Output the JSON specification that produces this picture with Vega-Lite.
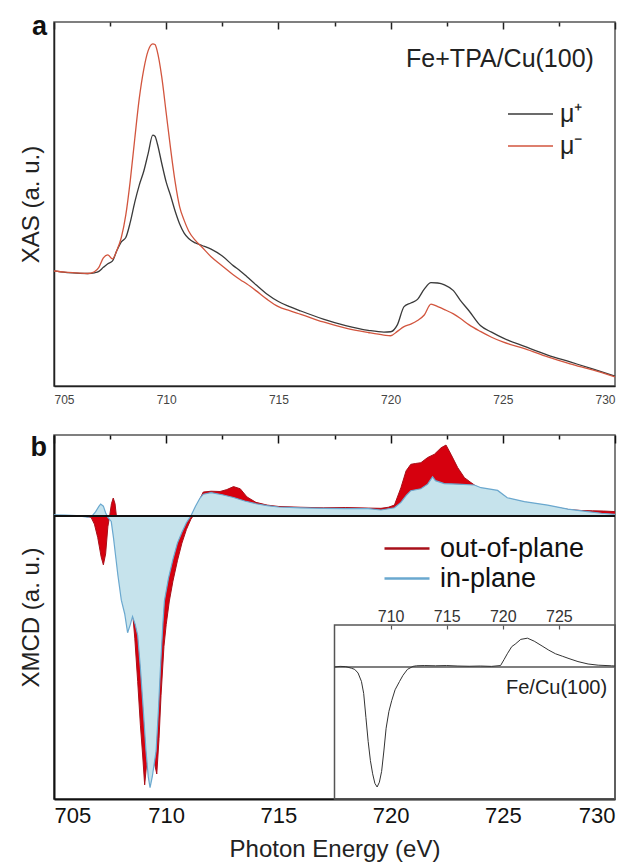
{
  "$schema": "https://vega.github.io/schema/vega-lite/v6.json",
  "padding": {"left": 18, "top": 12, "right": 0, "bottom": 0},
  "spacing": 27,
  "config": {
    "font": "Liberation Sans",
    "view": {"stroke": "#555", "strokeWidth": 1.5},
    "axis": {"grid": false, "titleFontWeight": "normal", "titleColor": "#222"}
  },
  "datasets": {
    "xas": [
      {"E": 705.0, "μ⁺": 0.316, "μ⁻": 0.316},
      {"E": 705.5, "μ⁺": 0.312, "μ⁻": 0.313},
      {"E": 706.0, "μ⁺": 0.310, "μ⁻": 0.311},
      {"E": 706.5, "μ⁺": 0.309, "μ⁻": 0.309},
      {"E": 706.8, "μ⁺": 0.311, "μ⁻": 0.314},
      {"E": 707.0, "μ⁺": 0.315, "μ⁻": 0.326},
      {"E": 707.2, "μ⁺": 0.326, "μ⁻": 0.352},
      {"E": 707.4, "μ⁺": 0.336, "μ⁻": 0.360},
      {"E": 707.6, "μ⁺": 0.343, "μ⁻": 0.349},
      {"E": 707.8, "μ⁺": 0.372, "μ⁻": 0.372},
      {"E": 708.0, "μ⁺": 0.396, "μ⁻": 0.408},
      {"E": 708.2, "μ⁺": 0.408, "μ⁻": 0.470},
      {"E": 708.4, "μ⁺": 0.450, "μ⁻": 0.565},
      {"E": 708.6, "μ⁺": 0.505, "μ⁻": 0.680},
      {"E": 708.8, "μ⁺": 0.552, "μ⁻": 0.790},
      {"E": 709.0, "μ⁺": 0.590, "μ⁻": 0.870},
      {"E": 709.2, "μ⁺": 0.640, "μ⁻": 0.922},
      {"E": 709.4, "μ⁺": 0.689, "μ⁻": 0.940},
      {"E": 709.5, "μ⁺": 0.686, "μ⁻": 0.938},
      {"E": 709.6, "μ⁺": 0.667, "μ⁻": 0.920},
      {"E": 709.8, "μ⁺": 0.612, "μ⁻": 0.850},
      {"E": 710.0, "μ⁺": 0.560, "μ⁻": 0.750},
      {"E": 710.2, "μ⁺": 0.522, "μ⁻": 0.650},
      {"E": 710.4, "μ⁺": 0.480, "μ⁻": 0.560},
      {"E": 710.6, "μ⁺": 0.445, "μ⁻": 0.492},
      {"E": 710.8, "μ⁺": 0.420, "μ⁻": 0.455},
      {"E": 711.0, "μ⁺": 0.405, "μ⁻": 0.426},
      {"E": 711.3, "μ⁺": 0.393, "μ⁻": 0.400},
      {"E": 711.6, "μ⁺": 0.386, "μ⁻": 0.381},
      {"E": 712.0, "μ⁺": 0.376, "μ⁻": 0.355},
      {"E": 712.5, "μ⁺": 0.357, "μ⁻": 0.330},
      {"E": 713.0, "μ⁺": 0.330, "μ⁻": 0.305},
      {"E": 713.3, "μ⁺": 0.316, "μ⁻": 0.292},
      {"E": 713.6, "μ⁺": 0.300, "μ⁻": 0.280},
      {"E": 714.0, "μ⁺": 0.278, "μ⁻": 0.262},
      {"E": 714.5, "μ⁺": 0.252, "μ⁻": 0.238},
      {"E": 715.0, "μ⁺": 0.232, "μ⁻": 0.218},
      {"E": 715.5, "μ⁺": 0.218, "μ⁻": 0.207},
      {"E": 716.0, "μ⁺": 0.206, "μ⁻": 0.197},
      {"E": 717.0, "μ⁺": 0.184, "μ⁻": 0.176},
      {"E": 718.0, "μ⁺": 0.166, "μ⁻": 0.159},
      {"E": 719.0, "μ⁺": 0.153, "μ⁻": 0.147},
      {"E": 719.7, "μ⁺": 0.148, "μ⁻": 0.140},
      {"E": 720.0, "μ⁺": 0.149, "μ⁻": 0.138},
      {"E": 720.3, "μ⁺": 0.168, "μ⁻": 0.150},
      {"E": 720.6, "μ⁺": 0.218, "μ⁻": 0.163},
      {"E": 720.9, "μ⁺": 0.228, "μ⁻": 0.170},
      {"E": 721.2, "μ⁺": 0.238, "μ⁻": 0.180},
      {"E": 721.5, "μ⁺": 0.266, "μ⁻": 0.195},
      {"E": 721.8, "μ⁺": 0.284, "μ⁻": 0.225},
      {"E": 722.1, "μ⁺": 0.283, "μ⁻": 0.218},
      {"E": 722.4, "μ⁺": 0.278, "μ⁻": 0.210},
      {"E": 722.8, "μ⁺": 0.262, "μ⁻": 0.198},
      {"E": 723.1, "μ⁺": 0.236, "μ⁻": 0.186},
      {"E": 723.5, "μ⁺": 0.206, "μ⁻": 0.168},
      {"E": 724.0, "μ⁺": 0.166, "μ⁻": 0.150},
      {"E": 724.5, "μ⁺": 0.148, "μ⁻": 0.134},
      {"E": 725.0, "μ⁺": 0.132, "μ⁻": 0.121},
      {"E": 726.0, "μ⁺": 0.108, "μ⁻": 0.102},
      {"E": 727.0, "μ⁺": 0.085, "μ⁻": 0.080},
      {"E": 728.0, "μ⁺": 0.066, "μ⁻": 0.061},
      {"E": 729.0, "μ⁺": 0.047, "μ⁻": 0.044},
      {"E": 730.0, "μ⁺": 0.027, "μ⁻": 0.025}
    ],
    "oop": [
      {"E": 705.0, "v": 0.002}, {"E": 705.5, "v": 0.001}, {"E": 706.0, "v": 0.0},
      {"E": 706.4, "v": -0.002}, {"E": 706.65, "v": -0.005}, {"E": 706.8, "v": -0.03},
      {"E": 706.95, "v": -0.08}, {"E": 707.1, "v": -0.15}, {"E": 707.2, "v": -0.18},
      {"E": 707.3, "v": -0.14}, {"E": 707.4, "v": -0.04}, {"E": 707.48, "v": 0.0},
      {"E": 707.56, "v": 0.045}, {"E": 707.64, "v": 0.066}, {"E": 707.72, "v": 0.045},
      {"E": 707.78, "v": 0.0}, {"E": 707.9, "v": -0.05}, {"E": 708.0, "v": -0.1},
      {"E": 708.2, "v": -0.2}, {"E": 708.4, "v": -0.3}, {"E": 708.51, "v": -0.362},
      {"E": 708.6, "v": -0.45}, {"E": 708.73, "v": -0.61}, {"E": 708.85, "v": -0.77},
      {"E": 708.95, "v": -0.88}, {"E": 709.04, "v": -0.99}, {"E": 709.12, "v": -0.92},
      {"E": 709.3, "v": -0.87}, {"E": 709.45, "v": -0.9}, {"E": 709.58, "v": -0.95},
      {"E": 709.68, "v": -0.82}, {"E": 709.77, "v": -0.66}, {"E": 709.9, "v": -0.48},
      {"E": 710.0, "v": -0.40}, {"E": 710.14, "v": -0.313}, {"E": 710.3, "v": -0.24},
      {"E": 710.5, "v": -0.165}, {"E": 710.7, "v": -0.10}, {"E": 710.9, "v": -0.05},
      {"E": 711.1, "v": -0.012}, {"E": 711.2, "v": 0.0}, {"E": 711.35, "v": 0.03},
      {"E": 711.5, "v": 0.062}, {"E": 711.65, "v": 0.088}, {"E": 712.0, "v": 0.091},
      {"E": 712.4, "v": 0.090}, {"E": 712.7, "v": 0.097}, {"E": 713.0, "v": 0.108},
      {"E": 713.3, "v": 0.100}, {"E": 713.6, "v": 0.070}, {"E": 714.0, "v": 0.050},
      {"E": 714.5, "v": 0.040}, {"E": 715.0, "v": 0.035}, {"E": 716.0, "v": 0.032},
      {"E": 717.0, "v": 0.030}, {"E": 718.0, "v": 0.031}, {"E": 719.0, "v": 0.029},
      {"E": 719.57, "v": 0.028}, {"E": 719.9, "v": 0.032}, {"E": 720.17, "v": 0.040},
      {"E": 720.46, "v": 0.104}, {"E": 720.69, "v": 0.166}, {"E": 720.9, "v": 0.19},
      {"E": 721.1, "v": 0.193}, {"E": 721.35, "v": 0.196}, {"E": 721.65, "v": 0.215},
      {"E": 721.95, "v": 0.227}, {"E": 722.25, "v": 0.251}, {"E": 722.47, "v": 0.261},
      {"E": 722.69, "v": 0.227}, {"E": 722.99, "v": 0.178}, {"E": 723.29, "v": 0.141},
      {"E": 723.58, "v": 0.123}, {"E": 723.75, "v": 0.113}, {"E": 724.0, "v": 0.100},
      {"E": 724.8, "v": 0.090}, {"E": 725.2, "v": 0.064}, {"E": 726.0, "v": 0.050},
      {"E": 727.0, "v": 0.037}, {"E": 727.9, "v": 0.024}, {"E": 728.5, "v": 0.020},
      {"E": 729.0, "v": 0.019}, {"E": 729.5, "v": 0.018}, {"E": 730.0, "v": 0.016}
    ],
    "ip": [
      {"E": 705.0, "v": 0.004}, {"E": 705.5, "v": 0.003}, {"E": 706.0, "v": 0.001},
      {"E": 706.5, "v": -0.004}, {"E": 706.7, "v": 0.0}, {"E": 706.85, "v": 0.015},
      {"E": 707.0, "v": 0.035}, {"E": 707.08, "v": 0.044}, {"E": 707.2, "v": 0.036},
      {"E": 707.3, "v": 0.012}, {"E": 707.4, "v": -0.005}, {"E": 707.55, "v": -0.02},
      {"E": 707.65, "v": -0.08}, {"E": 707.75, "v": -0.15}, {"E": 707.85, "v": -0.22},
      {"E": 708.0, "v": -0.31}, {"E": 708.15, "v": -0.36}, {"E": 708.28, "v": -0.43},
      {"E": 708.4, "v": -0.40}, {"E": 708.5, "v": -0.37}, {"E": 708.62, "v": -0.40},
      {"E": 708.73, "v": -0.44}, {"E": 708.85, "v": -0.56}, {"E": 708.95, "v": -0.68},
      {"E": 709.1, "v": -0.865}, {"E": 709.2, "v": -0.96}, {"E": 709.28, "v": -1.0},
      {"E": 709.38, "v": -0.96}, {"E": 709.55, "v": -0.865}, {"E": 709.65, "v": -0.72},
      {"E": 709.75, "v": -0.55}, {"E": 709.85, "v": -0.40}, {"E": 709.92, "v": -0.313},
      {"E": 710.1, "v": -0.23}, {"E": 710.3, "v": -0.16}, {"E": 710.5, "v": -0.10},
      {"E": 710.7, "v": -0.06}, {"E": 710.9, "v": -0.025}, {"E": 711.1, "v": 0.0},
      {"E": 711.3, "v": 0.035}, {"E": 711.5, "v": 0.065}, {"E": 711.65, "v": 0.08},
      {"E": 712.0, "v": 0.086}, {"E": 712.5, "v": 0.078}, {"E": 713.0, "v": 0.068},
      {"E": 713.5, "v": 0.055}, {"E": 714.0, "v": 0.045}, {"E": 714.5, "v": 0.038},
      {"E": 715.0, "v": 0.033}, {"E": 716.0, "v": 0.030}, {"E": 717.0, "v": 0.028},
      {"E": 718.0, "v": 0.027}, {"E": 719.0, "v": 0.027}, {"E": 719.57, "v": 0.022},
      {"E": 720.17, "v": 0.030}, {"E": 720.46, "v": 0.05}, {"E": 720.69, "v": 0.075},
      {"E": 720.9, "v": 0.093}, {"E": 721.35, "v": 0.10}, {"E": 721.65, "v": 0.117},
      {"E": 721.87, "v": 0.144}, {"E": 722.0, "v": 0.13}, {"E": 722.39, "v": 0.119},
      {"E": 722.99, "v": 0.117}, {"E": 723.73, "v": 0.114}, {"E": 724.03, "v": 0.104},
      {"E": 724.77, "v": 0.094}, {"E": 725.2, "v": 0.067}, {"E": 725.96, "v": 0.053},
      {"E": 727.0, "v": 0.04}, {"E": 727.9, "v": 0.025}, {"E": 728.78, "v": 0.016},
      {"E": 729.4, "v": 0.01}, {"E": 730.0, "v": 0.006}
    ],
    "inset": [
      {"E": 705.0, "v": 0.0}, {"E": 705.5, "v": 0.005}, {"E": 706.0, "v": 0.003},
      {"E": 706.5, "v": -0.01}, {"E": 706.8, "v": -0.02}, {"E": 707.1, "v": -0.05},
      {"E": 707.4, "v": -0.12}, {"E": 707.6, "v": -0.22}, {"E": 707.8, "v": -0.42},
      {"E": 708.0, "v": -0.62}, {"E": 708.2, "v": -0.78}, {"E": 708.4, "v": -0.89},
      {"E": 708.6, "v": -0.97}, {"E": 708.8, "v": -1.0}, {"E": 709.0, "v": -0.96},
      {"E": 709.2, "v": -0.87}, {"E": 709.4, "v": -0.70}, {"E": 709.6, "v": -0.51},
      {"E": 709.85, "v": -0.37}, {"E": 710.1, "v": -0.28}, {"E": 710.4, "v": -0.19},
      {"E": 710.8, "v": -0.12}, {"E": 711.1, "v": -0.07}, {"E": 711.5, "v": -0.02},
      {"E": 712.0, "v": 0.005}, {"E": 712.3, "v": 0.01}, {"E": 713.0, "v": 0.012},
      {"E": 714.0, "v": 0.01}, {"E": 715.0, "v": 0.012}, {"E": 716.0, "v": 0.008},
      {"E": 717.0, "v": 0.006}, {"E": 718.0, "v": 0.008}, {"E": 719.0, "v": 0.005},
      {"E": 719.8, "v": 0.012}, {"E": 720.1, "v": 0.06}, {"E": 720.4, "v": 0.11},
      {"E": 720.8, "v": 0.17}, {"E": 721.1, "v": 0.19}, {"E": 721.6, "v": 0.23},
      {"E": 722.2, "v": 0.24}, {"E": 722.8, "v": 0.215}, {"E": 723.5, "v": 0.175},
      {"E": 724.1, "v": 0.14}, {"E": 724.7, "v": 0.11}, {"E": 725.3, "v": 0.09},
      {"E": 725.9, "v": 0.07}, {"E": 726.7, "v": 0.045}, {"E": 727.6, "v": 0.025},
      {"E": 728.5, "v": 0.015}, {"E": 729.7, "v": 0.01}, {"E": 730.0, "v": 0.008}
    ]
  },
  "vconcat": [
    {
      "width": 561,
      "height": 364,
      "layer": [
        {
          "data": {"name": "xas"},
          "transform": [{"fold": ["μ⁺", "μ⁻"], "as": ["pol", "val"]}],
          "mark": {"type": "line", "strokeWidth": 1.3, "interpolate": "monotone"},
          "encoding": {
            "x": {"field": "E", "type": "quantitative",
                  "scale": {"domain": [705, 730], "nice": false, "zero": false},
                  "axis": {"title": null, "values": [705, 710, 715, 720, 725, 730], "ticks": false, "tickSize": 0,
                           "labelPadding": 8, "labelFontSize": 12, "labelColor": "#444",
                           "domainColor": "#222", "domainWidth": 1.5}},
            "y": {"field": "val", "type": "quantitative",
                  "scale": {"domain": [0, 1], "nice": false, "zero": false},
                  "axis": {"title": "XAS (a. u.)", "titleFontSize": 24, "titlePadding": 11,
                           "labels": false, "ticks": false, "domainColor": "#222", "domainWidth": 1.5}},
            "stroke": {"field": "pol", "type": "nominal",
                       "scale": {"domain": ["μ⁺", "μ⁻"], "range": ["#3a3a3a", "#d2553e"]},
                       "legend": {"orient": "none", "legendX": 453, "legendY": 77, "title": null,
                                  "symbolType": "stroke", "symbolSize": 2025, "symbolStrokeWidth": 1.5,
                                  "labelFontSize": 25, "labelOffset": 6, "labelColor": "#222",
                                  "clipHeight": 30, "rowPadding": 2, "padding": 0}}
          }
        },
        {
          "data": {"values": [{}]},
          "mark": {"type": "text", "text": "Fe+TPA/Cu(100)", "fontSize": 25, "align": "right", "baseline": "middle", "color": "#222"},
          "encoding": {
            "x": {"datum": 729.06,
                  "axis": {"title": null, "values": [705, 710, 715, 720, 725, 730], "labels": false, "domain": false,
                           "offset": -7, "tickSize": 7, "tickWidth": 1.5, "tickColor": "#222"}},
            "y": {"datum": 0.898}
          }
        },
        {
          "data": {"values": [{}]},
          "mark": {"type": "text", "text": "a", "fontSize": 27, "fontWeight": "bold", "align": "right", "baseline": "alphabetic", "dx": -7, "dy": 13, "color": "#111"},
          "encoding": {
            "x": {"datum": 705,
                  "axis": {"title": null, "values": [707.5, 712.5, 717.5, 722.5, 727.5], "labels": false, "domain": false,
                           "offset": -4, "tickSize": 4, "tickWidth": 1.5, "tickColor": "#222"}},
            "y": {"datum": 1}
          }
        }
      ],
      "resolve": {"axis": {"x": "independent"}}
    },
    {
      "width": 561,
      "height": 364,
      "layer": [
        {
          "layer": [
            {
              "data": {"name": "oop"},
              "mark": {"type": "area", "color": "#d6000e", "interpolate": "linear"},
              "encoding": {
                "x": {"field": "E", "type": "quantitative",
                      "scale": {"domain": [705, 730], "nice": false, "zero": false},
                      "axis": {"title": "Photon Energy (eV)", "titleFontSize": 24, "titlePadding": 11,
                               "values": [705, 710, 715, 720, 725, 730], "ticks": false, "tickSize": 0,
                               "labelPadding": 6, "labelFontSize": 22, "labelColor": "#111",
                               "domainColor": "#111", "domainWidth": 2}},
                "y": {"field": "v", "type": "quantitative",
                      "scale": {"domain": [-1.042, 0.298], "nice": false, "zero": false},
                      "axis": {"title": "XMCD (a. u.)", "titleFontSize": 24, "titlePadding": 11,
                               "labels": false, "ticks": false, "domainColor": "#111", "domainWidth": 2}},
                "y2": {"datum": 0}
              }
            },
            {
              "data": {"name": "oop"},
              "mark": {"type": "line", "strokeWidth": 1, "interpolate": "linear"},
              "encoding": {
                "x": {"field": "E", "type": "quantitative",
                      "axis": {"title": null, "values": [705, 710, 715, 720, 725, 730], "labels": false, "domain": false,
                               "offset": -8, "tickSize": 8, "tickWidth": 1.5, "tickColor": "#111"}},
                "y": {"field": "v", "type": "quantitative"},
                "stroke": {"datum": "out-of-plane",
                           "scale": {"domain": ["out-of-plane", "in-plane"], "range": ["#a8101a", "#6aa8cf"]},
                           "legend": {"orient": "none", "legendX": 329, "legendY": 100, "title": null,
                                      "symbolType": "stroke", "symbolSize": 2025, "symbolStrokeWidth": 2.5,
                                      "labelFontSize": 27, "labelOffset": 9, "labelColor": "#111",
                                      "clipHeight": 27, "rowPadding": 2, "padding": 0}}
              }
            },
            {
              "data": {"name": "ip"},
              "mark": {"type": "area", "color": "#c6e3ec", "interpolate": "linear"},
              "encoding": {
                "x": {"field": "E", "type": "quantitative",
                      "axis": {"title": null, "values": [707.5, 712.5, 717.5, 722.5, 727.5], "labels": false, "domain": false,
                               "offset": -4, "tickSize": 4, "tickWidth": 1.5, "tickColor": "#111"}},
                "y": {"field": "v", "type": "quantitative"},
                "y2": {"datum": 0}
              }
            },
            {
              "data": {"name": "ip"},
              "mark": {"type": "line", "strokeWidth": 1.2, "interpolate": "linear"},
              "encoding": {
                "x": {"field": "E", "type": "quantitative", "axis": null},
                "y": {"field": "v", "type": "quantitative"},
                "stroke": {"datum": "in-plane",
                           "legend": {"orient": "none", "legendX": 329, "legendY": 100, "title": null,
                                      "symbolType": "stroke", "symbolSize": 2025, "symbolStrokeWidth": 2.5,
                                      "labelFontSize": 27, "labelOffset": 9, "labelColor": "#111",
                                      "clipHeight": 27, "rowPadding": 2, "padding": 0}}
              }
            },
            {
              "data": {"values": [{}]},
              "mark": {"type": "rule", "color": "#111", "strokeWidth": 2},
              "encoding": {"y": {"datum": 0}}
            },
            {
              "data": {"values": [{}]},
              "mark": {"type": "text", "text": "b", "fontSize": 27, "fontWeight": "bold", "align": "right", "baseline": "alphabetic", "dx": -7, "dy": 21, "color": "#111"},
              "encoding": {"x": {"datum": 705, "axis": null}, "y": {"datum": 0.298}}
            }
          ],
          "resolve": {"axis": {"x": "independent"}}
        },
        {
          "layer": [
            {
              "data": {"values": [{}]},
              "mark": {"type": "rect", "fill": "transparent", "stroke": "#555", "strokeWidth": 1.5},
              "encoding": {
                "x": {"datum": 705, "scale": {"domain": [680, 730], "nice": false, "zero": false},
                      "axis": {"orient": "top", "offset": -194, "title": null, "values": [710, 715, 720, 725],
                               "labels": false, "domain": false, "tickSize": 4, "tickColor": "#555", "tickWidth": 1.2}},
                "x2": {"datum": 730},
                "y": {"datum": -1.1, "scale": {"domain": [-1.1, 1.933], "nice": false, "zero": false}, "axis": null},
                "y2": {"datum": 0.35}
              }
            },
            {
              "data": {"values": [{}]},
              "mark": {"type": "rule", "color": "#555", "strokeWidth": 1.5},
              "encoding": {
                "x": {"datum": 705, "axis": null},
                "x2": {"datum": 730},
                "y": {"datum": 0, "axis": null}
              }
            },
            {
              "data": {"name": "inset"},
              "mark": {"type": "line", "color": "#333", "strokeWidth": 1},
              "encoding": {
                "x": {"field": "E", "type": "quantitative",
                      "axis": {"orient": "top", "offset": -190, "title": null, "values": [710, 715, 720, 725],
                               "domain": false, "ticks": false, "tickSize": 0,
                               "labelPadding": 1, "labelFontSize": 16, "labelColor": "#333"}},
                "y": {"field": "v", "type": "quantitative", "axis": null}
              }
            },
            {
              "data": {"values": [{}]},
              "mark": {"type": "text", "text": "Fe/Cu(100)", "fontSize": 20, "align": "right", "baseline": "middle", "color": "#222"},
              "encoding": {"x": {"datum": 729.3, "axis": null}, "y": {"datum": -0.175, "axis": null}}
            }
          ],
          "resolve": {"axis": {"x": "independent", "y": "independent"}}
        }
      ],
      "resolve": {"scale": {"x": "independent", "y": "independent"}, "axis": {"x": "independent", "y": "independent"}}
    }
  ],
  "resolve": {"scale": {"x": "independent", "y": "independent", "stroke": "independent"}, "legend": {"stroke": "independent"}}
}
